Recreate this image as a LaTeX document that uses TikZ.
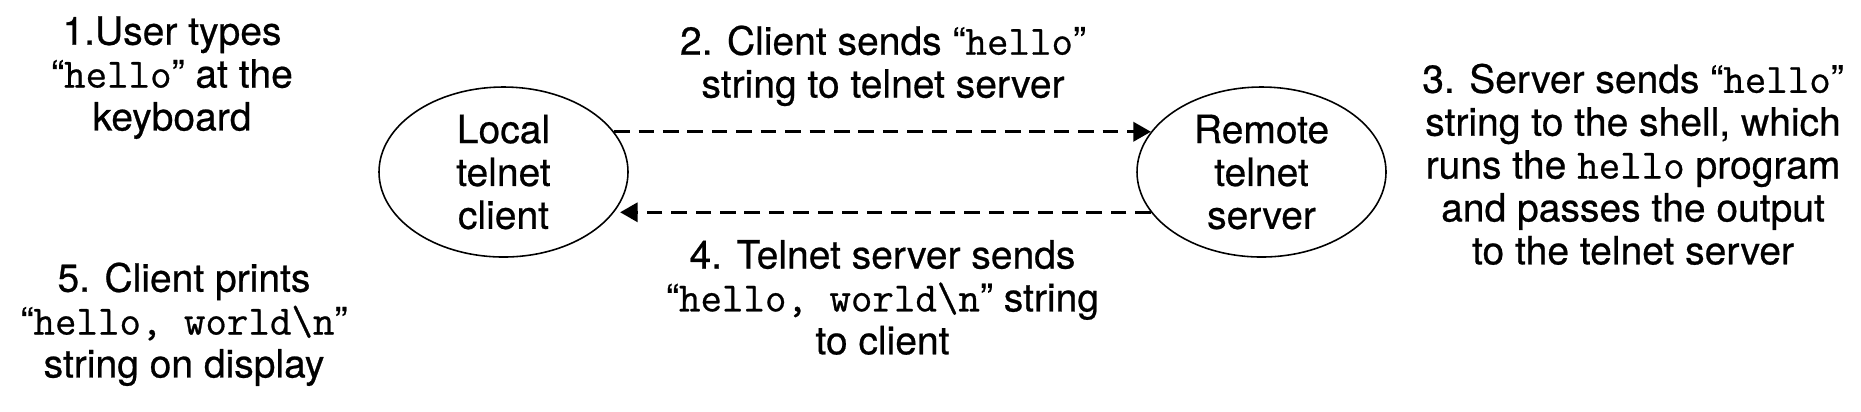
\documentclass[tikz,border=0pt]{standalone}
\usepackage{fontspec}
\setmainfont{TeX Gyre Heros}[FakeBold=0.6]
\setmonofont{Latin Modern Mono}[Scale=1.07,FakeBold=0.6]
\usetikzlibrary{shapes.geometric,arrows.meta}
\newcommand\lblock[1]{\begin{tabular}[t]{@{}c@{}}#1\end{tabular}}
\begin{document}
\begin{tikzpicture}[x=0.1mm,y=-0.1mm,
  every node/.style={font=\fontsize{11.1}{12.2}\selectfont, inner sep=0pt},
  txt/.style={anchor=base},
  peer/.style={ellipse, draw, line width=0.45pt, minimum width=24.9mm, minimum height=17mm, align=center},
  flow/.style={line width=0.77pt, dash pattern=on 4.45pt off 2.5pt, -{Triangle[length=5pt,width=5.5pt]}}]
\useasboundingbox (0,0) rectangle (1861,411);
\node[peer] (local) at (503.5,172) {Local\\telnet\\client};
\node[peer] (remote) at (1261.5,172) {Remote\\telnet\\server};
\draw[flow] (local.20) -- (remote.160);
\draw[flow, shorten >=0.6mm] (remote.200) -- (local.-20);
\node[txt] (s1) at (172,44.7) {\lblock{1.User types\\“\texttt{hello}” at the\\keyboard}};
\node[txt] (s2) at (883,54.7) {\lblock{2. Client sends “\texttt{hello}”\\string to telnet server}};
\node[txt] (s3) at (1633,92.8) {\lblock{3. Server sends “\texttt{hello}”\\string to the shell, which\\runs the \texttt{hello} program\\and passes the output\\to the telnet server}};
\node[txt] (s4) at (882.5,268.5) {\lblock{4. Telnet server sends\\“\texttt{hello, world\textbackslash n}” string\\to client}};
\node[txt] (s5) at (184,291.7) {\lblock{5. Client prints\\“\texttt{hello, world\textbackslash n}”\\string on display}};
\end{tikzpicture}
\end{document}
